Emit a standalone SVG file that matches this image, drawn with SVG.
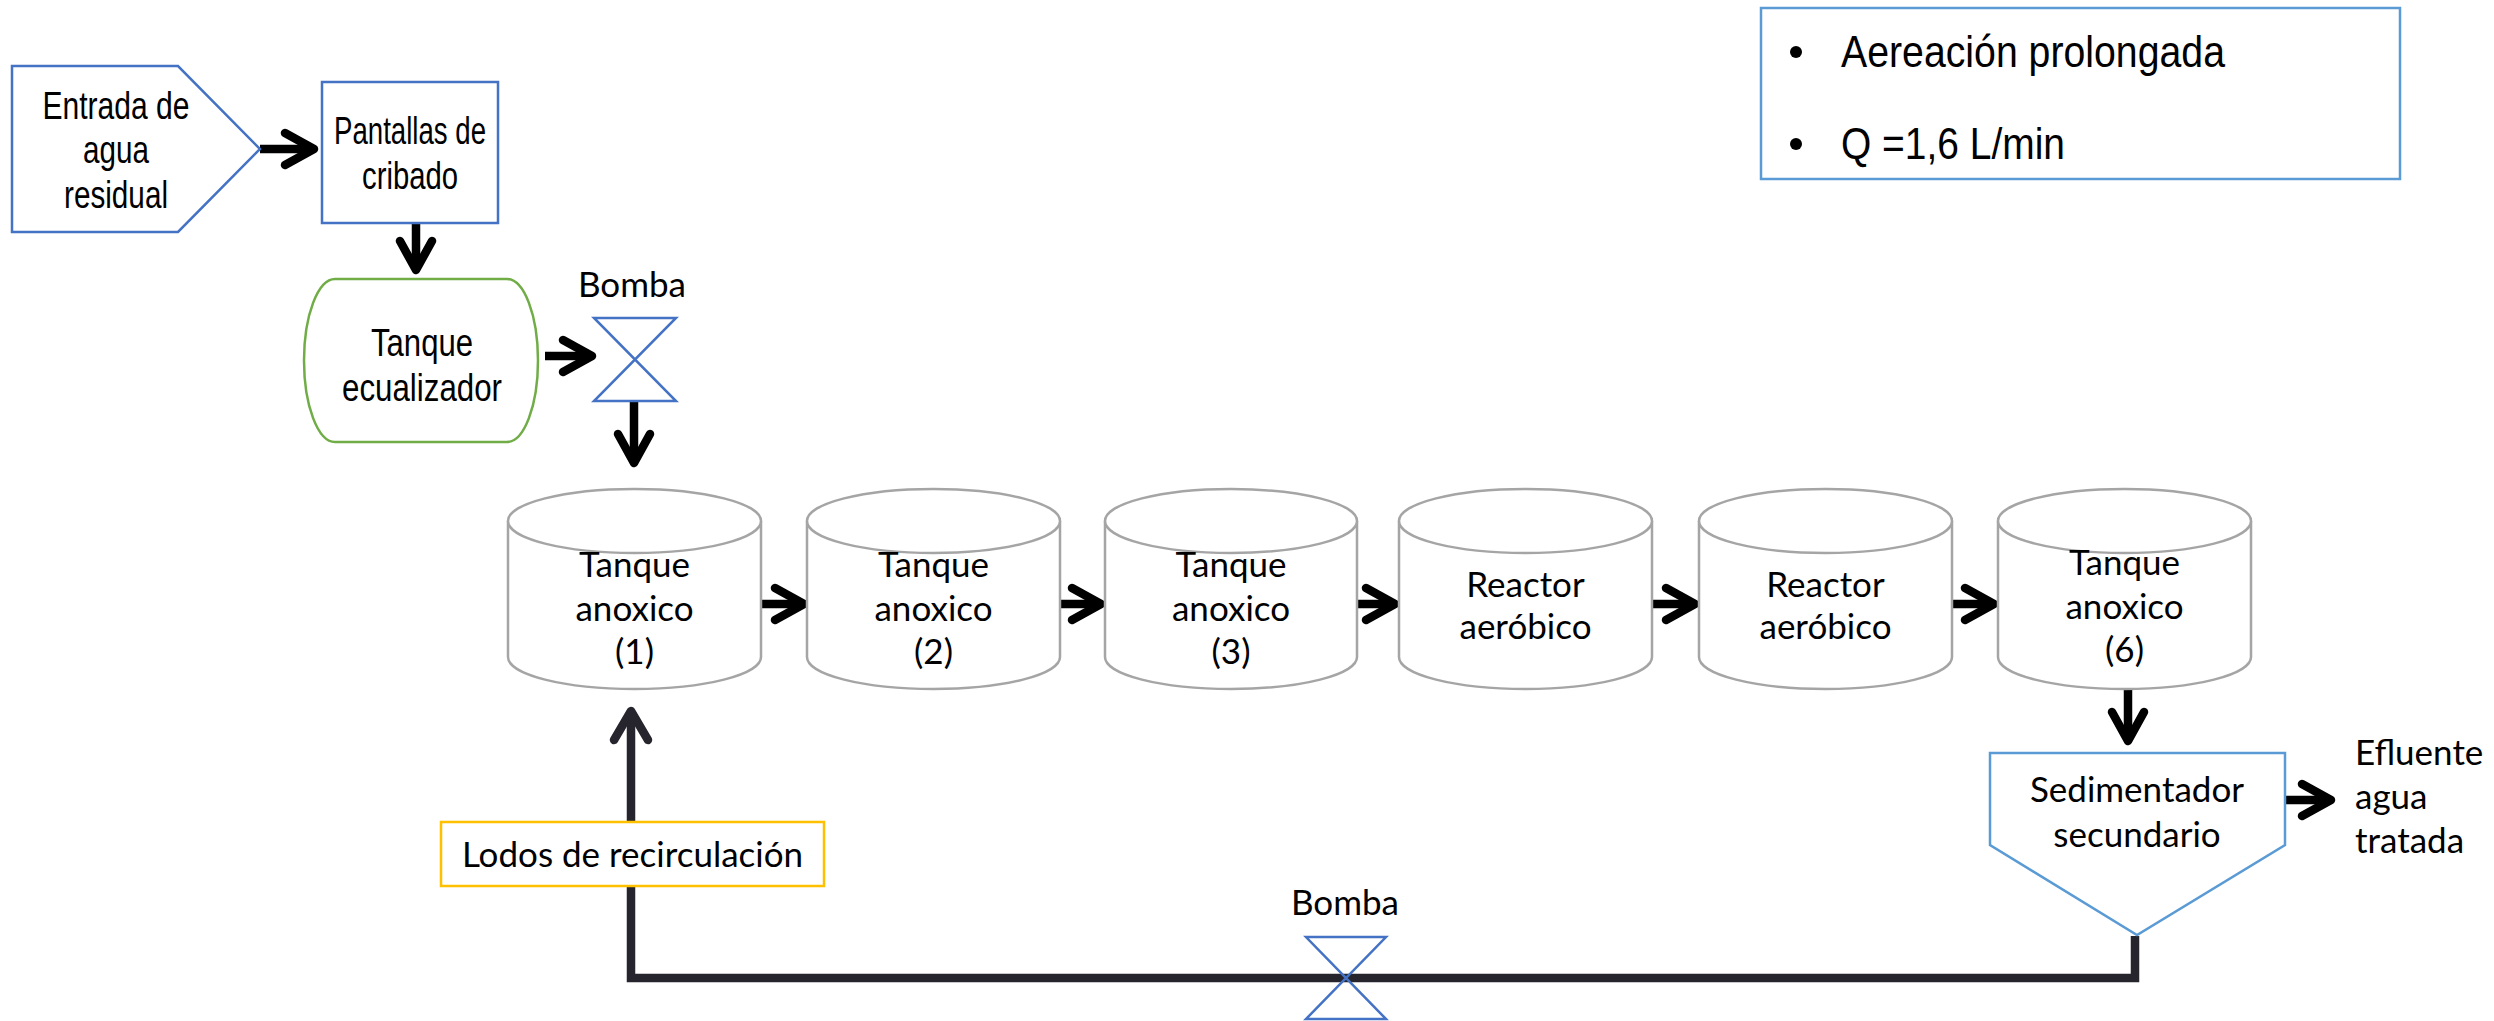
<svg xmlns="http://www.w3.org/2000/svg" width="2494" height="1021" viewBox="0 0 2494 1021">
<style>
.ar{font-family:"Liberation Sans",Arial,sans-serif;font-size:38px;fill:#000;text-anchor:middle}
.ca{font-family:Lato,"Open Sans",sans-serif;font-size:35px;fill:#000;text-anchor:middle}
.nt{font-family:"Liberation Sans",Arial,sans-serif;font-size:44px;fill:#000}
.blue{fill:#fff;stroke:#4472C4;stroke-width:2.5}
.lblue{fill:#fff;stroke:#5B9BD5;stroke-width:2.5}
.cyl{fill:#fff;stroke:#A5A5A5;stroke-width:2.5}
.valve{fill:none;stroke:#4472C4;stroke-width:2.5}
.con{fill:none;stroke:#000;stroke-width:8.5}
.rec{fill:none;stroke:#26252E;stroke-width:8.5}
</style>
<defs>
<marker id="ah" markerUnits="userSpaceOnUse" viewBox="-40 -25 50 50" refX="0" refY="0" markerWidth="50" markerHeight="50" orient="auto" overflow="visible">
<path d="M-29,-16 L0,0 L-29,16" fill="none" stroke="#000" stroke-width="8.5" stroke-linecap="round" stroke-linejoin="round"/>
</marker>
<marker id="ah2" markerUnits="userSpaceOnUse" viewBox="-40 -25 50 50" refX="0" refY="0" markerWidth="50" markerHeight="50" orient="auto" overflow="visible">
<path d="M-29,-17 L0,0 L-29,17" fill="none" stroke="#26252E" stroke-width="8.5" stroke-linecap="round" stroke-linejoin="round"/>
</marker>
</defs>

<g id="connectors">
<path class="con" d="M260,149 H314" marker-end="url(#ah)"/>
<path class="con" d="M416,223 V270" marker-end="url(#ah)"/>
<path class="con" d="M545,356 H592" marker-end="url(#ah)"/>
<path class="con" d="M634,401 V463" marker-end="url(#ah)"/>
<path class="con" d="M761,604 H804" marker-end="url(#ah)"/>
<path class="con" d="M1060,604 H1101" marker-end="url(#ah)"/>
<path class="con" d="M1357,604 H1395" marker-end="url(#ah)"/>
<path class="con" d="M1652,604 H1695" marker-end="url(#ah)"/>
<path class="con" d="M1952,604 H1994" marker-end="url(#ah)"/>
<path class="con" d="M2128,689 V741" marker-end="url(#ah)"/>
<path class="con" d="M2285,800 H2331" marker-end="url(#ah)"/>
<path class="rec" d="M2135,936 V978 H631 V711" marker-end="url(#ah2)"/>
</g>

<g id="entrada">
<polygon class="blue" points="12,66 178,66 260,149 178,232 12,232"/>
<text class="ar" x="116" y="119" textLength="147" lengthAdjust="spacingAndGlyphs">Entrada de</text>
<text class="ar" x="116" y="163" textLength="66" lengthAdjust="spacingAndGlyphs">agua</text>
<text class="ar" x="116" y="208" textLength="104" lengthAdjust="spacingAndGlyphs">residual</text>
</g>

<g id="pantallas">
<rect class="blue" x="322" y="82" width="176" height="141"/>
<text class="ar" x="410" y="144" textLength="152" lengthAdjust="spacingAndGlyphs">Pantallas de</text>
<text class="ar" x="410" y="189" textLength="96" lengthAdjust="spacingAndGlyphs">cribado</text>
</g>

<g id="ecualizador">
<path d="M335,279 H507 A31,81.5 0 0 1 507,442 H335 A31,81.5 0 0 1 335,279 Z" fill="#fff" stroke="#70AD47" stroke-width="2.5"/>
<text class="ar" x="422" y="356" textLength="102" lengthAdjust="spacingAndGlyphs">Tanque</text>
<text class="ar" x="422" y="401" textLength="160" lengthAdjust="spacingAndGlyphs">ecualizador</text>
</g>

<g id="bomba1">
<path class="valve" d="M594,318 H676 L594,401 H676 Z"/>
<text class="ca" x="632" y="297">Bomba</text>
</g>

<g id="tanque1">
<path class="cyl" d="M508,521 V657 A126.5,32 0 0 0 761,657 V521"/>
<ellipse class="cyl" cx="634.5" cy="521" rx="126.5" ry="32"/>
<text class="ca" x="634.5" y="577">Tanque</text>
<text class="ca" x="634.5" y="621">anoxico</text>
<text class="ca" x="634.5" y="664">(1)</text>
</g>

<g id="tanque2">
<path class="cyl" d="M807,521 V657 A126.5,32 0 0 0 1060,657 V521"/>
<ellipse class="cyl" cx="933.5" cy="521" rx="126.5" ry="32"/>
<text class="ca" x="933.5" y="577">Tanque</text>
<text class="ca" x="933.5" y="621">anoxico</text>
<text class="ca" x="933.5" y="664">(2)</text>
</g>

<g id="tanque3">
<path class="cyl" d="M1105,521 V657 A126,32 0 0 0 1357,657 V521"/>
<ellipse class="cyl" cx="1231" cy="521" rx="126" ry="32"/>
<text class="ca" x="1231" y="577">Tanque</text>
<text class="ca" x="1231" y="621">anoxico</text>
<text class="ca" x="1231" y="664">(3)</text>
</g>

<g id="reactor1">
<path class="cyl" d="M1399,521 V657 A126.5,32 0 0 0 1652,657 V521"/>
<ellipse class="cyl" cx="1525.5" cy="521" rx="126.5" ry="32"/>
<text class="ca" x="1525.5" y="597">Reactor</text>
<text class="ca" x="1525.5" y="639">aeróbico</text>
</g>

<g id="reactor2">
<path class="cyl" d="M1699,521 V657 A126.5,32 0 0 0 1952,657 V521"/>
<ellipse class="cyl" cx="1825.5" cy="521" rx="126.5" ry="32"/>
<text class="ca" x="1825.5" y="597">Reactor</text>
<text class="ca" x="1825.5" y="639">aeróbico</text>
</g>

<g id="tanque6">
<path class="cyl" d="M1998,521 V657 A126.5,32 0 0 0 2251,657 V521"/>
<ellipse class="cyl" cx="2124.5" cy="521" rx="126.5" ry="32"/>
<text class="ca" x="2124.5" y="575">Tanque</text>
<text class="ca" x="2124.5" y="619">anoxico</text>
<text class="ca" x="2124.5" y="662">(6)</text>
</g>

<g id="sedimentador">
<polygon class="lblue" points="1990,753 2285,753 2285,845 2137,935 1990,845"/>
<text class="ca" x="2137" y="802">Sedimentador</text>
<text class="ca" x="2137" y="847">secundario</text>
</g>

<g id="efluente">
<text class="ca" x="2355" y="765" style="text-anchor:start">Efluente</text>
<text class="ca" x="2355" y="809" style="text-anchor:start">agua</text>
<text class="ca" x="2355" y="853" style="text-anchor:start">tratada</text>
</g>

<g id="lodos">
<rect x="441" y="822" width="383" height="64" fill="#fff" stroke="#FFC000" stroke-width="2.5"/>
<text class="ca" x="632.5" y="867">Lodos de recirculación</text>
</g>

<g id="bomba2">
<path class="valve" d="M1306,937 H1386 L1306,1019 H1386 Z"/>
<text class="ca" x="1345" y="915">Bomba</text>
</g>

<g id="notas">
<rect x="1761" y="8" width="639" height="171" fill="#fff" stroke="#5B9BD5" stroke-width="2.5"/>
<circle cx="1796" cy="52" r="6" fill="#000"/>
<circle cx="1796" cy="144" r="6" fill="#000"/>
<text class="nt" x="1841" y="67" textLength="384" lengthAdjust="spacingAndGlyphs">Aereación prolongada</text>
<text class="nt" x="1841" y="159" textLength="224" lengthAdjust="spacingAndGlyphs">Q =1,6 L/min</text>
</g>
</svg>
